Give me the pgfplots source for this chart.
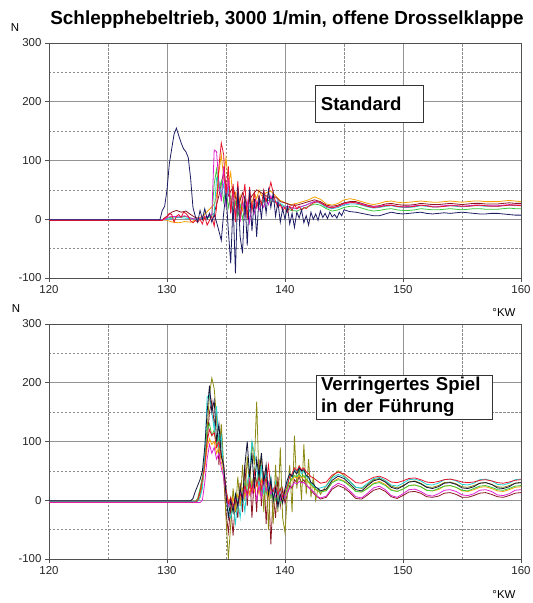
\documentclass[border=0pt]{standalone}
\usepackage{fontspec}
\setmainfont{Liberation Sans}
\usepackage{pgfplots}
\pgfplotsset{compat=1.18}

\definecolor{cNavy}{HTML}{1C1C64}
\definecolor{cDark}{HTML}{14143A}
\definecolor{cRed}{HTML}{E8142C}
\definecolor{cMag}{HTML}{E020D0}
\definecolor{cOra}{HTML}{F5A000}
\definecolor{cGrn}{HTML}{3CC83C}
\definecolor{cCya}{HTML}{22D2D2}
\definecolor{cBrn}{HTML}{8B1520}
\definecolor{cOli}{HTML}{8C8A10}
\definecolor{cAxis}{HTML}{505050}

\pgfplotsset{
  kraft/.style={
    scale only axis, width=472bp, height=235bp,
    xmin=120, xmax=160, ymin=-100, ymax=300,
    xtick={120,130,...,160}, minor xtick={125,135,145,155},
    ytick={-100,0,...,300}, minor ytick={-50,50,150,250},
    xtick pos=left, ytick pos=left,
    tick align=outside, major tick length=4bp, minor tick length=0pt,
    tick style={cAxis, line width=0.7pt},
    grid=both,
    major grid style={gray!85, line width=0.7pt},
    minor grid style={gray!90, line width=0.6pt, dash pattern=on 2.5pt off 1.5pt},
    axis line style={cAxis, line width=0.8pt},
    ticklabel style={font=\fontsize{11.5}{13}\selectfont, text=black!85},
    /pgf/number format/assume math mode=true,
    every axis plot/.append style={line width=0.8pt, no markers},
    clip=true,
  },
}
\tikzset{
  infobox/.style={draw=black!80, line width=0.7pt, fill=white, align=left,
    font=\bfseries\fontsize{18.7}{22}\selectfont},
}

\begin{document}
\begin{tikzpicture}
\path[use as bounding box] (0bp,0bp) rectangle (533bp,603bp);

\node[anchor=base, font=\bfseries\fontsize{19}{22}\selectfont] at (287bp,578bp) {Schlepphebeltrieb, 3000 1/min, offene Drosselklappe};

% ---------------- upper diagram: standard guide clearance ----------------
\begin{axis}[kraft, at={(49bp,325bp)}, anchor=south west]
\addplot[cOra] coordinates {(120,-1)(129.8,-1)(130,-2)(130.5,-5)(131,-6)(131.5,-4)(132,-5)(132.5,0)(133,5)(133.5,15)(134,25)(134.2,40)(134.4,80)(134.6,110)(134.8,70)(135.0,105)(135.2,60)(135.4,80)(135.6,30)(135.8,45)(136.0,20)(136.2,40)(136.4,15)(136.6,35)(136.8,20)(137.0,40)(137.2,25)(137.4,45)(137.6,35)(137.8,50)(138.0,40)(138.4,45)(138.8,48)(139.2,40)(139.6,32)(140,28)(140.5,25)(141,27)(141.5,30)(142,33)(142.5,38)(143,34)(143.5,26)(144,24)(144.5,27)(145,33)(145.5,35)(146,33)(146.5,30)(147,27)(147.5,25)(148,27)(148.5,30)(149,31)(149.5,29)(150,28)(150.5,29)(151,30)(151.5,31)(152,30)(152.5,29)(153,29)(153.5,30)(154,31)(154.5,30)(155,29)(155.5,30)(156,31)(156.5,31)(157,30)(157.5,30)(158,30)(158.5,31)(159,32)(159.5,31)(160,30)};
\addplot[cBrn] coordinates {(120,-1)(129.6,-1)(130.0,5)(130.4,12)(130.8,15)(131.2,12)(131.6,14)(132.0,8)(132.4,3)(133.0,0)(133.5,5)(134.0,10)(134.4,40)(134.8,80)(135.2,40)(135.6,55)(136.0,20)(136.4,45)(136.8,25)(137.2,40)(137.6,50)(138.0,45)(138.4,40)(138.8,35)(139.2,38)(139.6,30)(140,28)(140.5,24)(141,24)(141.5,27)(142,30)(142.5,33)(143,30)(143.5,24)(144,22)(144.5,24)(145,28)(145.5,30)(146,30)(146.5,27)(147,24)(147.5,22)(148,23)(148.5,26)(149,27)(149.5,25)(150,24)(150.5,24)(151,25)(151.5,27)(152,26)(152.5,25)(153,25)(153.5,26)(154,27)(154.5,26)(155,25)(155.5,26)(156,27)(156.5,27)(157,26)(157.5,26)(158,26)(158.5,27)(159,28)(159.5,27)(160,27)};
\addplot[cGrn] coordinates {(120,-1)(129.8,-1)(130,2)(130.5,4)(131,3)(131.5,5)(132,2)(132.5,0)(133,2)(133.5,3)(133.8,5)(134.0,60)(134.2,85)(134.4,50)(134.6,65)(134.8,30)(135.0,55)(135.2,20)(135.4,40)(135.6,10)(135.8,30)(136.0,5)(136.2,25)(136.4,0)(136.6,20)(136.8,5)(137.0,15)(137.4,20)(137.8,25)(138.2,30)(138.6,32)(139,30)(139.5,26)(140,20)(140.5,15)(141,14)(141.5,18)(142,22)(142.5,26)(143,24)(143.5,18)(144,14)(144.5,16)(145,20)(145.5,22)(146,22)(146.5,19)(147,16)(147.5,14)(148,15)(148.5,17)(149,18)(149.5,16)(150,15)(150.5,15)(151,16)(151.5,18)(152,17)(152.5,16)(153,16)(153.5,17)(154,18)(154.5,17)(155,16)(155.5,17)(156,18)(156.5,18)(157,17)(157.5,17)(158,17)(158.5,18)(159,19)(159.5,18)(160,18)};
\addplot[cCya] coordinates {(120,-1)(129.8,-1)(130,0)(130.5,2)(131,3)(131.5,2)(132,1)(132.5,0)(133,2)(133.5,4)(134.0,10)(134.2,70)(134.4,65)(134.6,40)(134.8,60)(135.0,25)(135.2,55)(135.4,15)(135.6,45)(135.8,10)(136.0,35)(136.2,5)(136.4,30)(136.6,10)(136.8,25)(137.0,15)(137.4,25)(137.8,30)(138.2,32)(138.6,35)(139,32)(139.5,28)(140,22)(140.5,18)(141,18)(141.5,22)(142,26)(142.5,30)(143,27)(143.5,20)(144,18)(144.5,20)(145,24)(145.5,26)(146,26)(146.5,24)(147,21)(147.5,19)(148,20)(148.5,22)(149,23)(149.5,21)(150,20)(150.5,20)(151,21)(151.5,23)(152,22)(152.5,21)(153,21)(153.5,22)(154,23)(154.5,22)(155,21)(155.5,22)(156,23)(156.5,23)(157,22)(157.5,22)(158,22)(158.5,23)(159,24)(159.5,23)(160,23)};
\addplot[cMag] coordinates {(120,-1)(129.8,-1)(130.0,3)(130.4,5)(131.0,4)(131.5,6)(132.0,2)(132.5,0)(133.0,3)(133.5,5)(133.8,8)(134.0,118)(134.2,115)(134.4,60)(134.6,30)(134.8,90)(135.0,20)(135.2,70)(135.4,10)(135.6,50)(135.8,0)(136.0,40)(136.2,-5)(136.4,35)(136.6,5)(136.8,30)(137.0,-5)(137.2,25)(137.4,10)(137.6,30)(137.8,15)(138.0,28)(138.2,20)(138.4,35)(138.6,25)(138.8,40)(139.0,30)(139.4,28)(139.8,20)(140.2,22)(140.6,20)(141.0,18)(141.4,22)(141.8,24)(142.2,28)(142.6,31)(143.0,28)(143.5,22)(144,20)(144.5,22)(145,26)(145.5,28)(146,28)(146.5,26)(147,23)(147.5,21)(148,22)(148.5,24)(149,24)(149.5,22)(150,21)(150.5,22)(151,23)(151.5,24)(152,23)(152.5,22)(153,22)(153.5,23)(154,24)(154.5,23)(155,22)(155.5,23)(156,24)(156.5,24)(157,23)(157.5,23)(158,23)(158.5,24)(159,25)(159.5,24)(160,24)};
\addplot[cRed] coordinates {(120,-2)(129.6,-2)(129.8,2)(130.0,5)(130.2,10)(130.4,8)(130.6,-5)(130.8,5)(131.0,8)(131.2,3)(131.4,12)(131.6,10)(131.8,5)(132.0,-3)(132.2,-6)(132.4,-2)(132.6,-5)(132.8,0)(133.0,-8)(133.2,5)(133.4,-10)(133.6,-2)(133.8,5)(134.0,-12)(134.2,20)(134.4,90)(134.6,130)(134.8,110)(135.0,40)(135.2,90)(135.4,10)(135.6,60)(135.8,-5)(136.0,65)(136.2,5)(136.4,30)(136.6,60)(136.8,0)(137.0,55)(137.2,15)(137.4,45)(137.6,20)(137.8,40)(138.0,25)(138.2,50)(138.4,30)(138.6,45)(138.8,63)(139.0,45)(139.2,30)(139.4,20)(139.6,25)(139.8,15)(140.0,20)(140.2,12)(140.4,22)(140.6,15)(140.8,25)(141.0,18)(141.2,22)(141.4,15)(141.6,20)(141.8,18)(142.0,22)(142.4,28)(142.8,30)(143.2,26)(143.6,21)(144.0,19)(144.5,22)(145,27)(145.5,29)(146,28)(146.5,25)(147,22)(147.5,20)(148,21)(148.5,23)(149,24)(149.5,22)(150,21)(150.5,21)(151,22)(151.5,24)(152,23)(152.5,21)(153,21)(153.5,22)(154,23)(154.5,23)(155,22)(155.5,22)(156,23)(156.5,24)(157,23)(157.5,22)(158,22)(158.5,23)(159,24)(159.5,24)(160,23)};
\addplot[cNavy] coordinates {(120,-1)(129.4,-1)(129.6,15)(129.8,22)(130.0,50)(130.2,95)(130.4,120)(130.6,145)(130.8,155)(131.0,142)(131.2,130)(131.4,120)(131.6,115)(131.8,105)(132.0,70)(132.2,20)(132.4,5)(132.6,-5)(132.8,15)(133.0,0)(133.2,18)(133.4,0)(133.6,10)(133.8,-5)(134.0,8)(134.2,-5)(134.4,-20)(134.6,-36)(134.8,10)(135.0,45)(135.2,-20)(135.4,-75)(135.6,30)(135.8,-92)(136.0,55)(136.2,-30)(136.4,-58)(136.6,40)(136.8,-45)(137.0,50)(137.2,-20)(137.4,35)(137.6,-30)(137.8,40)(138.0,0)(138.2,45)(138.4,10)(138.6,50)(138.8,20)(139.0,45)(139.2,5)(139.4,30)(139.6,-5)(139.8,18)(140.0,0)(140.2,22)(140.4,-8)(140.6,10)(140.8,-14)(141.0,12)(141.2,2)(141.4,16)(141.6,-6)(141.8,6)(142.0,-10)(142.2,12)(142.4,0)(142.6,9)(142.8,-2)(143.0,14)(143.2,3)(143.4,10)(143.6,1)(143.8,12)(144.0,4)(144.2,8)(144.4,2)(144.6,12)(144.8,6)(145.0,16)(145.5,13)(146,12)(146.5,10)(147,8)(147.5,6)(148,6)(148.5,9)(149,12)(149.5,10)(150,9)(150.5,10)(151,11)(151.5,12)(152,10)(152.5,9)(153,10)(153.5,11)(154,10)(154.5,11)(155,12)(155.5,11)(156,10)(156.5,9)(157,9)(157.5,10)(158,10)(158.5,9)(159,8)(159.5,7)(160,7)};
\node[infobox, anchor=north west, inner xsep=6bp, inner ysep=0pt, text width=96bp, minimum height=37bp] at (axis cs:142.5,228) {Standard};
\end{axis}
\node[anchor=base, font=\fontsize{11.5}{13}\selectfont] at (15bp,571bp) {N};
\node[anchor=base east, font=\fontsize{11.5}{13}\selectfont] at (519bp,286bp) {°KW};

% ---------------- lower diagram: reduced guide clearance ----------------
\begin{axis}[kraft, at={(49bp,44bp)}, anchor=south west]
\addplot[cBrn] coordinates {(120,-3)(132.4,-3)(132.6,0)(132.8,12)(133.0,30)(133.2,60)(133.4,100)(133.6,150)(133.8,170)(134.0,130)(134.2,150)(134.4,60)(134.6,120)(134.8,40)(135.0,-20)(135.2,-55)(135.4,-10)(135.6,-60)(135.8,0)(136.0,-30)(136.2,30)(136.4,-20)(136.6,60)(136.8,-10)(137.0,50)(137.2,-30)(137.4,40)(137.6,-20)(137.8,70)(138.0,-10)(138.2,50)(138.4,-40)(138.6,30)(138.8,-75)(139.0,10)(139.2,-30)(139.4,40)(139.6,-10)(139.8,20)(140.0,-5)(140.2,10)(140.4,25)(140.6,20)(140.8,35)(141.0,30)(141.2,40)(141.4,30)(141.6,35)(141.8,25)(142.0,22)(142.2,18)(142.4,12)(142.6,8)(142.8,5)(143.0,2)(143.5,5)(144.0,19)(144.5,25)(145.0,21)(145.5,13)(146.0,3)(146.5,2)(147.0,9)(147.5,17)(148.0,20)(148.5,15)(149.0,6)(149.5,3)(150.0,8)(150.5,14)(151.0,15)(151.5,12)(152.0,6)(152.5,5)(153.0,7)(153.5,12)(154.0,13)(154.5,10)(155.0,5)(155.5,5)(156.0,8)(156.5,12)(157.0,13)(157.5,10)(158.0,6)(158.5,5)(159.0,8)(159.5,12)(160.0,13)};
\addplot[cOli] coordinates {(120,-2)(132.6,-2)(132.8,5)(133.0,30)(133.2,70)(133.4,120)(133.6,180)(133.8,208)(134.0,190)(134.2,140)(134.4,80)(134.6,130)(134.8,60)(135.0,-30)(135.2,-100)(135.4,-40)(135.6,20)(135.8,-20)(136.0,40)(136.2,-10)(136.4,60)(136.6,0)(136.8,75)(137.0,20)(137.2,100)(137.4,60)(137.6,168)(137.8,30)(138.0,80)(138.2,-20)(138.4,60)(138.6,-50)(138.8,40)(139.0,-40)(139.2,60)(139.4,-20)(139.6,90)(139.8,-30)(140.0,-55)(140.2,10)(140.4,60)(140.6,-20)(140.8,110)(141.0,20)(141.2,60)(141.4,0)(141.6,95)(141.8,10)(142.0,70)(142.2,5)(142.4,40)(142.6,0)(142.8,20)(143.0,10)(143.5,25)(144.0,40)(144.5,50)(145.0,42)(145.5,32)(146.0,22)(146.5,20)(147,27)(147.5,35)(148,37)(148.5,32)(149,24)(149.5,21)(150,25)(150.5,31)(151,33)(151.5,29)(152,23)(152.5,22)(153,25)(153.5,30)(154,31)(154.5,28)(155,23)(155.5,22)(156,25)(156.5,29)(157,30)(157.5,27)(158,23)(158.5,22)(159,25)(159.5,29)(160,30)};
\addplot[cOra] coordinates {(120,-2)(132.4,-2)(132.6,2)(132.8,15)(133.0,30)(133.2,55)(133.4,90)(133.6,105)(133.8,95)(134.0,100)(134.2,80)(134.4,90)(134.6,65)(134.8,45)(135.0,15)(135.2,0)(135.4,-10)(135.6,5)(135.8,-15)(136.0,10)(136.2,-5)(136.4,20)(136.6,5)(136.8,30)(137.0,10)(137.2,35)(137.4,15)(137.6,30)(137.8,10)(138.0,35)(138.2,15)(138.4,25)(138.6,5)(138.8,20)(139.0,0)(139.2,15)(139.4,5)(139.6,10)(139.8,0)(140.0,10)(140.2,20)(140.4,30)(140.6,35)(140.8,40)(141.0,38)(141.2,42)(141.4,38)(141.6,40)(141.8,35)(142.0,30)(142.2,26)(142.4,22)(142.6,18)(142.8,15)(143.0,14)(143.5,17)(144.0,31)(144.5,37)(145.0,33)(145.5,25)(146.0,15)(146.5,14)(147.0,21)(147.5,29)(148.0,32)(148.5,27)(149.0,18)(149.5,15)(150.0,19)(150.5,25)(151.0,26)(151.5,23)(152.0,17)(152.5,16)(153.0,18)(153.5,24)(154.0,25)(154.5,22)(155.0,16)(155.5,15)(156.0,18)(156.5,22)(157.0,23)(157.5,20)(158.0,16)(158.5,15)(159.0,18)(159.5,22)(160.0,23)};
\addplot[cGrn] coordinates {(120,-2)(132.4,-2)(132.6,3)(132.8,20)(133.0,40)(133.2,70)(133.4,120)(133.6,130)(133.8,110)(134.0,120)(134.2,95)(134.4,110)(134.6,80)(134.8,55)(135.0,20)(135.2,-10)(135.4,5)(135.6,-20)(135.8,10)(136.0,-15)(136.2,20)(136.4,0)(136.6,30)(136.8,10)(137.0,40)(137.2,20)(137.4,55)(137.6,30)(137.8,45)(138.0,15)(138.2,35)(138.4,10)(138.6,30)(138.8,5)(139.0,20)(139.2,0)(139.4,15)(139.6,-5)(139.8,10)(140.0,5)(140.2,20)(140.4,30)(140.6,38)(140.8,42)(141.0,40)(141.2,45)(141.4,40)(141.6,42)(141.8,36)(142.0,32)(142.2,27)(142.4,23)(142.6,19)(142.8,16)(143.0,14)(143.5,16)(144.0,30)(144.5,35)(145.0,32)(145.5,24)(146.0,15)(146.5,14)(147.0,20)(147.5,28)(148.0,30)(148.5,25)(149.0,17)(149.5,15)(150.0,19)(150.5,25)(151.0,26)(151.5,23)(152.0,17)(152.5,16)(153.0,20)(153.5,24)(154.0,25)(154.5,22)(155.0,17)(155.5,16)(156.0,20)(156.5,24)(157.0,25)(157.5,22)(158.0,18)(158.5,17)(159.0,20)(159.5,24)(160.0,25)};
\addplot[cCya] coordinates {(120,-2)(132.6,-2)(132.8,5)(133.0,20)(133.2,80)(133.4,175)(133.6,180)(133.8,150)(134.0,120)(134.2,160)(134.4,90)(134.6,110)(134.8,50)(135.0,20)(135.2,-20)(135.4,-30)(135.6,-10)(135.8,-40)(136.0,0)(136.2,-30)(136.4,10)(136.6,-20)(136.8,30)(137.0,50)(137.2,100)(137.4,80)(137.6,60)(137.8,20)(138.0,60)(138.2,10)(138.4,50)(138.6,20)(138.8,40)(139.0,0)(139.2,30)(139.4,-10)(139.6,20)(139.8,5)(140.0,15)(140.2,30)(140.4,45)(140.6,40)(140.8,52)(141.0,48)(141.2,55)(141.4,45)(141.6,50)(141.8,40)(142.0,38)(142.2,30)(142.4,25)(142.6,22)(142.8,20)(143.0,21)(143.5,24)(144.0,38)(144.5,44)(145.0,40)(145.5,32)(146.0,22)(146.5,21)(147.0,29)(147.5,37)(148.0,39)(148.5,34)(149.0,26)(149.5,24)(150.0,29)(150.5,35)(151.0,36)(151.5,33)(152.0,27)(152.5,26)(153.0,29)(153.5,35)(154.0,36)(154.5,33)(155.0,27)(155.5,26)(156.0,29)(156.5,35)(157.0,36)(157.5,33)(158.0,27)(158.5,26)(159.0,29)(159.5,35)(160.0,36)};
\addplot[cMag] coordinates {(120,-4)(132.8,-4)(133.0,0)(133.2,30)(133.4,70)(133.6,95)(133.8,80)(134.0,90)(134.2,70)(134.4,80)(134.6,55)(134.8,40)(135.0,10)(135.2,-10)(135.4,0)(135.6,-15)(135.8,5)(136.0,-10)(136.2,15)(136.4,0)(136.6,20)(136.8,5)(137.0,35)(137.2,10)(137.4,30)(137.6,0)(137.8,25)(138.0,5)(138.2,35)(138.4,15)(138.6,30)(138.8,10)(139.0,20)(139.2,5)(139.4,15)(139.6,0)(139.8,10)(140.0,5)(140.2,15)(140.4,20)(140.6,25)(140.8,30)(141.0,28)(141.2,32)(141.4,30)(141.6,30)(141.8,26)(142.0,22)(142.2,18)(142.4,15)(142.6,10)(142.8,6)(143.0,4)(143.5,7)(144.0,22)(144.5,29)(145.0,25)(145.5,16)(146.0,6)(146.5,4)(147.0,12)(147.5,21)(148.0,24)(148.5,18)(149.0,8)(149.5,5)(150.0,11)(150.5,18)(151.0,19)(151.5,15)(152.0,9)(152.5,7)(153.0,11)(153.5,17)(154.0,18)(154.5,15)(155.0,9)(155.5,8)(156.0,11)(156.5,17)(157.0,18)(157.5,15)(158.0,9)(158.5,8)(159.0,11)(159.5,17)(160.0,18)};
\addplot[cRed] coordinates {(120,-3)(132.4,-3)(132.6,0)(132.8,15)(133.0,35)(133.2,60)(133.4,100)(133.6,120)(133.8,110)(134.0,115)(134.2,90)(134.4,100)(134.6,75)(134.8,60)(135.0,20)(135.2,-5)(135.4,5)(135.6,-10)(135.8,0)(136.0,-5)(136.2,10)(136.4,5)(136.6,25)(136.8,10)(137.0,30)(137.2,15)(137.4,50)(137.6,25)(137.8,40)(138.0,20)(138.2,45)(138.4,30)(138.6,60)(138.8,20)(139.0,15)(139.2,25)(139.4,10)(139.6,20)(139.8,5)(140.0,15)(140.2,25)(140.4,40)(140.6,45)(140.8,55)(141.0,50)(141.2,58)(141.4,52)(141.6,55)(141.8,48)(142.0,45)(142.2,40)(142.4,38)(142.6,35)(142.8,32)(143.0,29)(143.5,31)(144.0,43)(144.5,48)(145.0,45)(145.5,38)(146.0,30)(146.5,29)(147.0,34)(147.5,39)(148.0,41)(148.5,37)(149.0,31)(149.5,30)(150.0,33)(150.5,37)(151.0,38)(151.5,35)(152.0,31)(152.5,30)(153.0,32)(153.5,35)(154.0,36)(154.5,34)(155.0,31)(155.5,30)(156.0,31)(156.5,34)(157.0,35)(157.5,33)(158.0,30)(158.5,29)(159.0,31)(159.5,34)(160.0,35)};
\addplot[cDark] coordinates {(120,-1)(132.0,-1)(132.2,3)(132.4,15)(132.6,25)(132.8,35)(133.0,50)(133.2,90)(133.4,150)(133.6,195)(133.8,150)(134.0,170)(134.2,100)(134.4,130)(134.6,75)(134.8,60)(135.0,10)(135.2,-30)(135.4,0)(135.6,-20)(135.8,10)(136.0,-10)(136.2,20)(136.4,0)(136.6,60)(136.8,100)(137.0,40)(137.2,80)(137.4,20)(137.6,70)(137.8,40)(138.0,80)(138.2,30)(138.4,60)(138.6,10)(138.8,35)(139.0,0)(139.2,20)(139.4,-10)(139.6,10)(139.8,-5)(140.0,20)(140.2,35)(140.4,45)(140.6,40)(140.8,50)(141.0,45)(141.2,55)(141.4,50)(141.6,52)(141.8,42)(142.0,40)(142.2,30)(142.4,28)(142.6,22)(142.8,20)(143.0,16)(143.5,19)(144.0,34)(144.5,41)(145.0,37)(145.5,28)(146.0,18)(146.5,16)(147.0,25)(147.5,33)(148.0,36)(148.5,31)(149.0,22)(149.5,19)(150.0,24)(150.5,31)(151.0,32)(151.5,28)(152.0,22)(152.5,20)(153.0,23)(153.5,29)(154.0,30)(154.5,27)(155.0,21)(155.5,20)(156.0,23)(156.5,29)(157.0,30)(157.5,27)(158.0,21)(158.5,20)(159.0,23)(159.5,29)(160.0,30)};
\node[infobox, anchor=north west, inner xsep=5bp, inner ysep=2.5bp, text width=166bp] at (axis cs:142.6,214) {Verringertes Spiel\\in der Führung};
\end{axis}
\node[anchor=base, font=\fontsize{11.5}{13}\selectfont] at (16bp,290bp) {N};
\node[anchor=base east, font=\fontsize{11.5}{13}\selectfont] at (519bp,5bp) {°KW};
\end{tikzpicture}
\end{document}
